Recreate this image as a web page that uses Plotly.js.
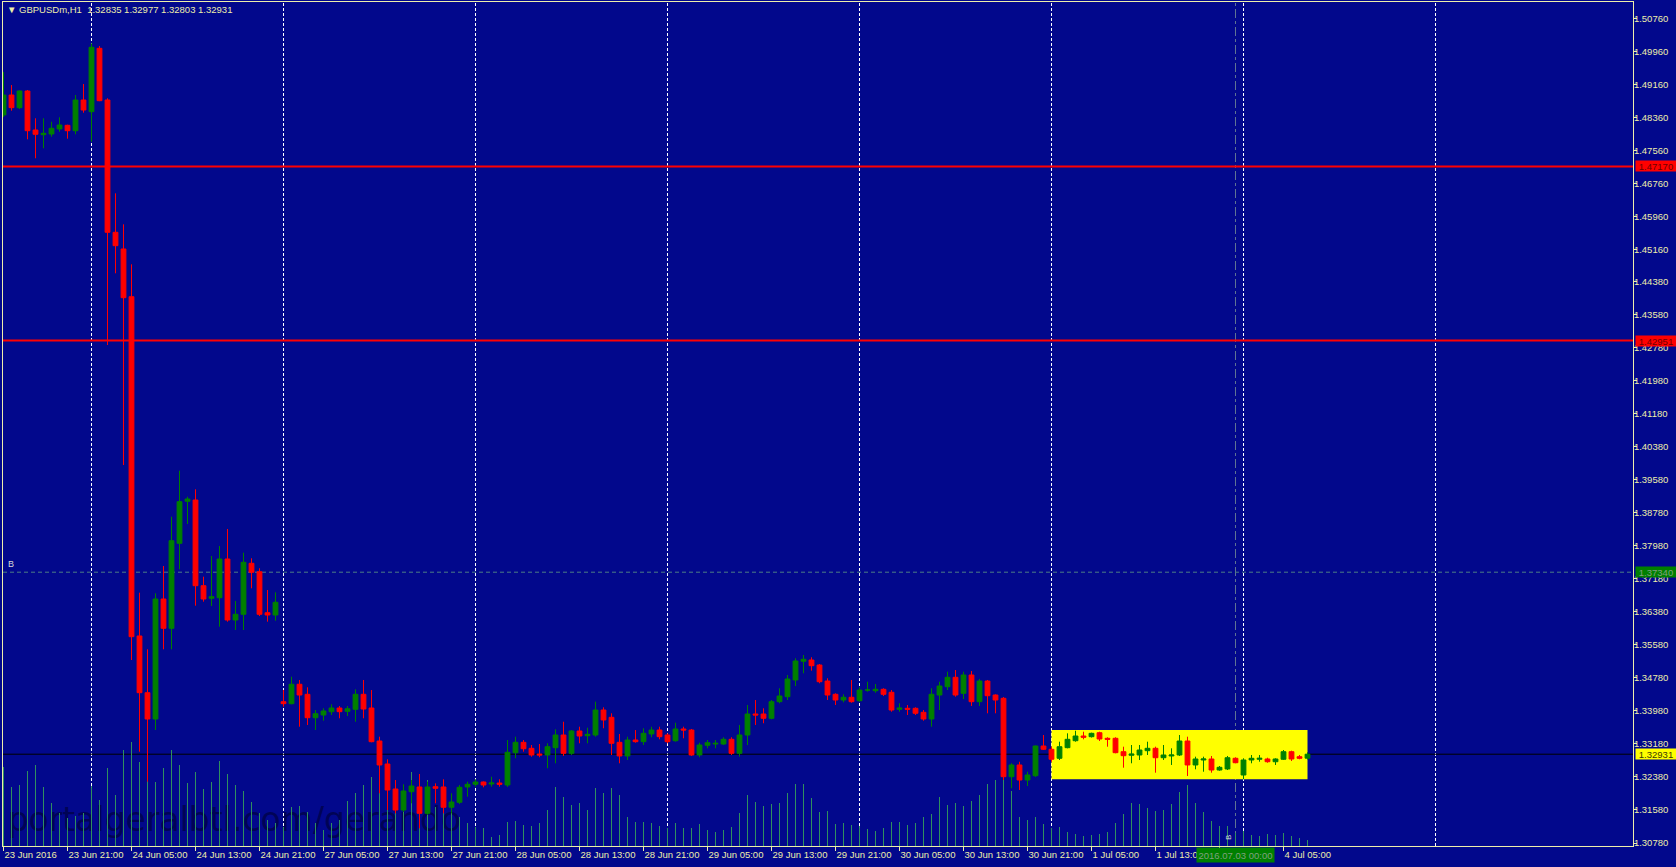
<!DOCTYPE html>
<html>
<head>
<meta charset="utf-8">
<script src="https://cdn.plot.ly/plotly-3.0.1.min.js"></script>
<style>
html,body{margin:0;padding:0;background:#02088c;overflow:hidden}
#chart{width:1676px;height:867px}
</style>
</head>
<body>
<div id="chart"></div>
<script>
// ---- data: GBPUSDm H1, bar 0 = 23 Jun 2016 13:00 ... bar 163 = 4 Jul 2016 08:00
const symbolName = "GBPUSDm,H1";

const openP = [
1.48416,1.48900,1.48593,1.48997,1.48052,1.47939,1.47955,1.48077,1.48166,1.48035,
1.48779,1.48496,1.50031,1.48779,1.45574,1.45170,1.44014,1.35795,1.34421,1.33784,
1.36691,1.35981,1.38040,1.39058,1.39089,1.37013,1.36708,1.36722,1.37660,1.36182,
1.36320,1.37556,1.37352,1.36359,1.36303,1.34203,1.34155,1.34625,1.34382,1.33815,
1.33881,1.33961,1.34050,1.33970,1.34019,1.34382,1.34050,1.33251,1.32694,1.32088,
1.31579,1.32023,1.32137,1.31499,1.32144,1.32137,1.31645,1.31766,1.32137,1.32202,
1.32258,1.32209,1.32233,1.32185,1.32968,1.33219,1.33074,1.32936,1.32912,1.33089,
1.33396,1.32953,1.33493,1.33379,1.33396,1.34002,1.33825,1.33219,1.32888,1.33275,
1.33234,1.33421,1.33517,1.33396,1.33258,1.33542,1.33517,1.32912,1.33147,1.33178,
1.33178,1.33292,1.32953,1.33396,1.33905,1.33905,1.33801,1.34203,1.34324,1.34729,
1.35182,1.35213,1.35092,1.34704,1.34382,1.34244,1.34310,1.34227,1.34486,1.34469,
1.34503,1.34431,1.34019,1.34043,1.34043,1.33946,1.33784,1.34365,1.34566,1.34794,
1.34406,1.34850,1.34203,1.34704,1.34365,1.34285,1.32386,1.32670,1.32306,1.32410,
1.33130,1.33050,1.32832,1.33089,1.33258,1.33372,1.33355,1.33452,1.33316,1.33316,
1.32992,1.32905,1.32912,1.33016,1.33074,1.32846,1.32888,1.32912,1.33251,1.32670,
1.32791,1.32815,1.32548,1.32573,1.32832,1.32427,1.32791,1.32808,1.32815,1.32749,
1.32808,1.32992,1.32871,1.32835];

const highP = [
1.49457,1.49142,1.49010,1.49021,1.48336,1.48336,1.48253,1.48360,1.48180,1.48900,
1.49167,1.50153,1.50087,1.48820,1.46519,1.45768,1.44799,1.36844,1.35472,1.36829,
1.37490,1.38685,1.39799,1.39169,1.39348,1.37231,1.37733,1.37975,1.38387,1.36642,
1.37813,1.37677,1.37435,1.36909,1.36853,1.34486,1.34809,1.34729,1.34552,1.34002,
1.34043,1.34140,1.34099,1.34099,1.34503,1.34729,1.34486,1.33355,1.32808,1.32306,
1.32202,1.32306,1.32452,1.32265,1.32226,1.32323,1.31984,1.32185,1.32265,1.32323,
1.32270,1.32386,1.32323,1.33275,1.33355,1.33275,1.33154,1.33178,1.33195,1.33534,
1.33718,1.33517,1.33597,1.33573,1.34203,1.34067,1.33922,1.33421,1.33355,1.33517,
1.33559,1.33597,1.33597,1.33437,1.33694,1.33597,1.33542,1.33210,1.33275,1.33275,
1.33341,1.33341,1.33639,1.34123,1.34244,1.34043,1.34244,1.34528,1.34850,1.35254,
1.35334,1.35279,1.35116,1.34770,1.34406,1.34382,1.34729,1.34552,1.34687,1.34632,
1.34528,1.34486,1.34164,1.34123,1.34067,1.34002,1.34528,1.34687,1.34930,1.34971,
1.34930,1.34947,1.34753,1.34729,1.34380,1.34317,1.32711,1.32749,1.32507,1.33140,
1.33396,1.33113,1.33234,1.33437,1.33500,1.33476,1.33452,1.33476,1.33341,1.33341,
1.33113,1.33154,1.33154,1.33234,1.33113,1.33154,1.33074,1.33396,1.33355,1.32871,
1.32871,1.32888,1.32645,1.32888,1.32856,1.32832,1.32912,1.32912,1.32846,1.32832,
1.33033,1.33016,1.32912,1.32977];

const lowP = [
1.48367,1.48520,1.48561,1.47827,1.47367,1.47609,1.47890,1.48011,1.47842,1.47948,
1.48471,1.47769,1.48750,1.42844,1.44581,1.39937,1.35213,1.32992,1.32265,1.33517,
1.35472,1.35472,1.37410,1.38508,1.36529,1.36626,1.36521,1.36020,1.36141,1.35940,
1.35940,1.36950,1.36279,1.36141,1.36165,1.34082,1.34140,1.33597,1.33639,1.33517,
1.33743,1.33881,1.33801,1.33857,1.33718,1.33801,1.33220,1.31984,1.31579,1.31499,
1.31531,1.31742,1.31136,1.31458,1.31742,1.31499,1.31499,1.31725,1.31902,1.32144,
1.32129,1.32144,1.32144,1.32137,1.32832,1.32992,1.32871,1.32856,1.32590,1.32711,
1.32888,1.32912,1.33195,1.33195,1.33355,1.33559,1.32912,1.32711,1.32791,1.33210,
1.33154,1.33341,1.33292,1.33195,1.33234,1.33316,1.32888,1.32856,1.33074,1.33074,
1.33154,1.32912,1.32871,1.33154,1.33639,1.33680,1.33777,1.34164,1.34244,1.34583,
1.34891,1.34954,1.34649,1.34244,1.34123,1.34188,1.34179,1.34203,1.34445,1.34421,
1.34341,1.33961,1.33961,1.33881,1.33881,1.33743,1.33597,1.34002,1.34486,1.34324,
1.34268,1.34099,1.34099,1.33922,1.33922,1.32306,1.32105,1.32064,1.32161,1.32379,
1.33033,1.32749,1.32791,1.33074,1.33234,1.33292,1.33335,1.33251,1.33113,1.32953,
1.32604,1.32711,1.32791,1.32912,1.32483,1.32791,1.32670,1.32888,1.32403,1.32565,
1.32507,1.32483,1.32531,1.32548,1.32711,1.32323,1.32711,1.32749,1.32725,1.32670,
1.32791,1.32767,1.32808,1.32803];

const closeP = [
1.48900,1.48593,1.48997,1.48035,1.47948,1.47972,1.48093,1.48173,1.48035,1.48779,
1.48537,1.50056,1.48762,1.45574,1.45250,1.43990,1.35778,1.34421,1.33784,1.36691,
1.35981,1.38103,1.39048,1.39113,1.37013,1.36691,1.36747,1.37660,1.36182,1.36320,
1.37580,1.37338,1.36320,1.36303,1.36611,1.34155,1.34625,1.34365,1.33815,1.33912,
1.33978,1.34050,1.33961,1.34033,1.34382,1.34026,1.33234,1.32670,1.32064,1.31579,
1.32040,1.32161,1.31499,1.32137,1.32105,1.31645,1.31773,1.32129,1.32202,1.32258,
1.32185,1.32233,1.32202,1.32977,1.33219,1.33064,1.32912,1.32912,1.33113,1.33396,
1.32953,1.33493,1.33372,1.33413,1.34002,1.33760,1.33195,1.32888,1.33275,1.33234,
1.33437,1.33517,1.33355,1.33234,1.33542,1.33517,1.32912,1.33154,1.33210,1.33195,
1.33292,1.32953,1.33396,1.33905,1.33881,1.33801,1.34203,1.34341,1.34753,1.35189,
1.35230,1.35075,1.34687,1.34365,1.34244,1.34310,1.34203,1.34486,1.34486,1.34503,
1.34382,1.34002,1.34050,1.34019,1.33922,1.33784,1.34382,1.34583,1.34794,1.34365,
1.34850,1.34203,1.34704,1.34348,1.34244,1.32386,1.32670,1.32306,1.32427,1.33130,
1.33050,1.32808,1.33113,1.33292,1.33372,1.33341,1.33437,1.33299,1.33292,1.32968,
1.32895,1.32936,1.33033,1.33074,1.32846,1.32912,1.32912,1.33251,1.32670,1.32815,
1.32815,1.32548,1.32614,1.32846,1.32725,1.32791,1.32832,1.32832,1.32749,1.32815,
1.32992,1.32815,1.32832,1.32931];

const tickVolume = [
7900,5900,6100,7500,8100,5900,4300,3300,2800,3000,
3300,6000,4600,7800,5100,9600,10400,8400,6600,6400,
7800,9600,8100,6300,7400,5700,6400,8500,7200,6100,
5500,4400,3300,2600,2300,1900,3900,4000,3400,2300,
1600,2300,2600,4500,5300,6100,6900,5600,5100,4400,
5900,7400,7200,6600,3900,3300,3900,2900,2300,1900,
1800,900,1100,2400,2500,2100,2000,2300,3600,5900,
4900,4100,4300,3600,5800,5300,5800,5100,2900,2400,
2400,2300,2000,1800,2300,1800,1800,2200,1600,1400,
1600,1900,3300,5100,4400,4000,4200,4300,5300,6200,
6200,4800,3400,3500,2200,2300,2100,2000,1700,1500,
1800,2400,2400,2100,2300,2900,3200,4900,4100,4300,
4000,4500,5100,6200,6600,6800,5500,2900,2600,2900,
2200,1800,1900,1400,1200,1000,1100,1200,1400,2300,
3200,4300,4200,3800,3500,3600,4200,5400,6100,4300,
3400,2500,2000,2000,1300,1500,1100,1000,1200,1100,
1300,1000,800,600];

// time-axis labels (every 8th bar)
const xTickBars = [0,8,16,24,32,40,48,56,64,72,80,88,96,104,112,120,128,136,144,152,160];
const xTickLabels = ["23 Jun 2016","23 Jun 21:00","24 Jun 05:00","24 Jun 13:00","24 Jun 21:00",
 "27 Jun 05:00","27 Jun 13:00","27 Jun 21:00","28 Jun 05:00","28 Jun 13:00","28 Jun 21:00",
 "29 Jun 05:00","29 Jun 13:00","29 Jun 21:00","30 Jun 05:00","30 Jun 13:00","30 Jun 21:00",
 "1 Jul 05:00","1 Jul 13:00","1 Jul 21:00","4 Jul 05:00"];
// day separators (bar index of 00:00 of each day)
const dayStartBars = [11,35,59,83,107,131,155,179];

// price-scale labels
const yTickVals = [1.3078,1.3158,1.3238,1.3318,1.3398,1.3478,1.3558,1.3638,1.3718,1.3798,1.3878,1.3958,
 1.4038,1.4118,1.4198,1.4278,1.4358,1.4438,1.4516,1.4596,1.4676,1.4756,1.4836,1.4916,1.4996,1.5076];

// chart objects
const resistanceLevels = [1.47170, 1.42951];
const hLineB = 1.37340;
const bidPrice = 1.32931;
const boxBars = [131, 163];
const boxPrices = [1.32323, 1.33517];
const vLineBar = 154;
const vLineLabel = "2016.07.03 00:00";
const watermark = "portalgeralbtl.com/gerando";

// ---- styling
const BG = "#02088c";
const FG = "#eeeeaa";
const FONT = "Liberation Sans, Arial, sans-serif";
const UP = "#008000", DOWN = "#ff0000", VOLC = "#2f8f5f";

const bars = openP.map((_, i) => i);
const n = openP.length;

const traces = [
  {type:"bar", x:bars, y:tickVolume, yaxis:"y", width:0.125,
   marker:{color:VOLC, line:{width:0}}, hoverinfo:"skip", showlegend:false},
  {type:"candlestick", x:bars, open:openP, high:highP, low:lowP, close:closeP, yaxis:"y2",
   increasing:{line:{color:UP, width:1}, fillcolor:UP},
   decreasing:{line:{color:DOWN, width:1}, fillcolor:DOWN},
   whiskerwidth:0, hoverinfo:"skip", showlegend:false}
];

const shapes = [];
// watermark (drawn under the data)
shapes.push({type:"rect", xref:"paper", yref:"paper", x0:0.001, x1:0.33, y0:0.005, y1:0.062,
  line:{width:0}, fillcolor:"rgba(0,0,0,0)", layer:"below",
  label:{text:watermark, textposition:"middle left", padding:0,
         font:{family:"DejaVu Sans, sans-serif", size:33, color:"rgba(0,0,40,0.55)"}}});
shapes.push({type:"rect", xref:"x", yref:"y2", x0:boxBars[0], x1:boxBars[1], y0:boxPrices[0], y1:boxPrices[1],
  fillcolor:"#ffff00", line:{width:0}, layer:"below"});
dayStartBars.forEach(b => shapes.push({type:"line", xref:"x", yref:"paper", x0:b, x1:b, y0:0, y1:1,
  line:{color:"#ffffff", width:1, dash:"3px,2px"}, layer:"below"}));
shapes.push({type:"line", xref:"x", yref:"paper", x0:vLineBar, x1:vLineBar, y0:0, y1:1,
  line:{color:"#5f7393", width:1, dash:"dashdot"}, layer:"below"});
shapes.push({type:"line", xref:"paper", yref:"y2", x0:0, x1:1, y0:hLineB, y1:hLineB,
  line:{color:"#4d7f86", width:1, dash:"4px,3px"}, layer:"below"});
resistanceLevels.forEach(v => shapes.push({type:"line", xref:"paper", yref:"y2", x0:0, x1:1, y0:v, y1:v,
  line:{color:"#ff0000", width:2}, layer:"below"}));
shapes.push({type:"line", xref:"paper", yref:"y2", x0:0, x1:1, y0:bidPrice, y1:bidPrice,
  line:{color:"#000000", width:1}, layer:"below"});

const axLabelX = 1.0012;
const annotations = [
  {xref:"paper", yref:"y2", x:axLabelX, y:resistanceLevels[0], xanchor:"left", yanchor:"middle",
   text:resistanceLevels[0].toFixed(5), showarrow:false, bgcolor:"#ff0000", width:40, height:10, borderpad:0,
   font:{family:FONT, size:9.5, color:"#6e0000"}},
  {xref:"paper", yref:"y2", x:axLabelX, y:resistanceLevels[1], xanchor:"left", yanchor:"middle",
   text:resistanceLevels[1].toFixed(5), showarrow:false, bgcolor:"#ff0000", width:40, height:10, borderpad:0,
   font:{family:FONT, size:9.5, color:"#6e0000"}},
  {xref:"paper", yref:"y2", x:axLabelX, y:hLineB, xanchor:"left", yanchor:"middle",
   text:hLineB.toFixed(5), showarrow:false, bgcolor:"#008000", width:40, height:10, borderpad:0,
   font:{family:FONT, size:9.5, color:"#7fa07f"}},
  {xref:"paper", yref:"y2", x:axLabelX, y:bidPrice, xanchor:"left", yanchor:"middle",
   text:bidPrice.toFixed(5), showarrow:false, bgcolor:"#ffff00", width:40, height:10, borderpad:0,
   font:{family:FONT, size:9.5, color:"#3a3a00"}},
  {xref:"x", yref:"paper", x:vLineBar, y:-0.0105, xanchor:"center", yanchor:"middle",
   text:vLineLabel, showarrow:false, bgcolor:"#008000", width:77, height:14, borderpad:0,
   font:{family:FONT, size:9.5, color:"#7fa07f"}},
  {xref:"paper", yref:"y2", x:0.002, y:hLineB, xanchor:"left", yanchor:"bottom", yshift:1,
   text:"B", showarrow:false, font:{family:FONT, size:9, color:"#d8d8d8"}},
  {xref:"x", yref:"paper", x:vLineBar, y:0.004, xanchor:"right", yanchor:"bottom", xshift:-1,
   text:"B", textangle:-90, showarrow:false, font:{family:FONT, size:8, color:"#d8d8d8"}}
];

const last = n - 1;
const headerText = "\u25BC\u00a0" + symbolName + "\u00a0\u00a0" +
  [openP[last], highP[last], lowP[last], closeP[last]].map(v => v.toFixed(5)).join(" ");

const layout = {
  width:1676, height:867,
  margin:{l:3, r:43, t:2, b:21, pad:0},
  paper_bgcolor:BG, plot_bgcolor:BG,
  showlegend:false, dragmode:false,
  boxgap:0.4, boxgroupgap:0, bargap:0,
  title:{text:headerText, x:7/1676, xanchor:"left", y:1-10/867, yanchor:"middle",
         font:{family:FONT, size:9.5, color:FG}},
  xaxis:{range:[-0.0625, 203.6875], tickmode:"array", tickvals:xTickBars, ticktext:xTickLabels,
    ticks:"outside", ticklen:4, tickcolor:FG, tickwidth:1, ticklabelposition:"outside right",
    tickfont:{family:FONT, size:9.5, color:FG}, showgrid:false, zeroline:false,
    showline:true, linecolor:FG, linewidth:1, mirror:true, rangeslider:{visible:false}, fixedrange:true},
  yaxis:{range:[0, 84400], visible:false, fixedrange:true},
  yaxis2:{overlaying:"y", side:"right", range:[1.307073, 1.511531], tickmode:"array",
    tickvals:yTickVals, ticktext:yTickVals.map(v => v.toFixed(5)),
    ticks:"outside", ticklen:3, tickcolor:FG, tickwidth:1, ticklabelstandoff:-5,
    tickfont:{family:FONT, size:9.5, color:FG}, showgrid:false, zeroline:false,
    showline:true, linecolor:FG, linewidth:1, mirror:true, fixedrange:true},
  shapes:shapes,
  annotations:annotations
};

Plotly.newPlot("chart", traces, layout, {staticPlot:true, displayModeBar:false});
</script>
</body>
</html>
